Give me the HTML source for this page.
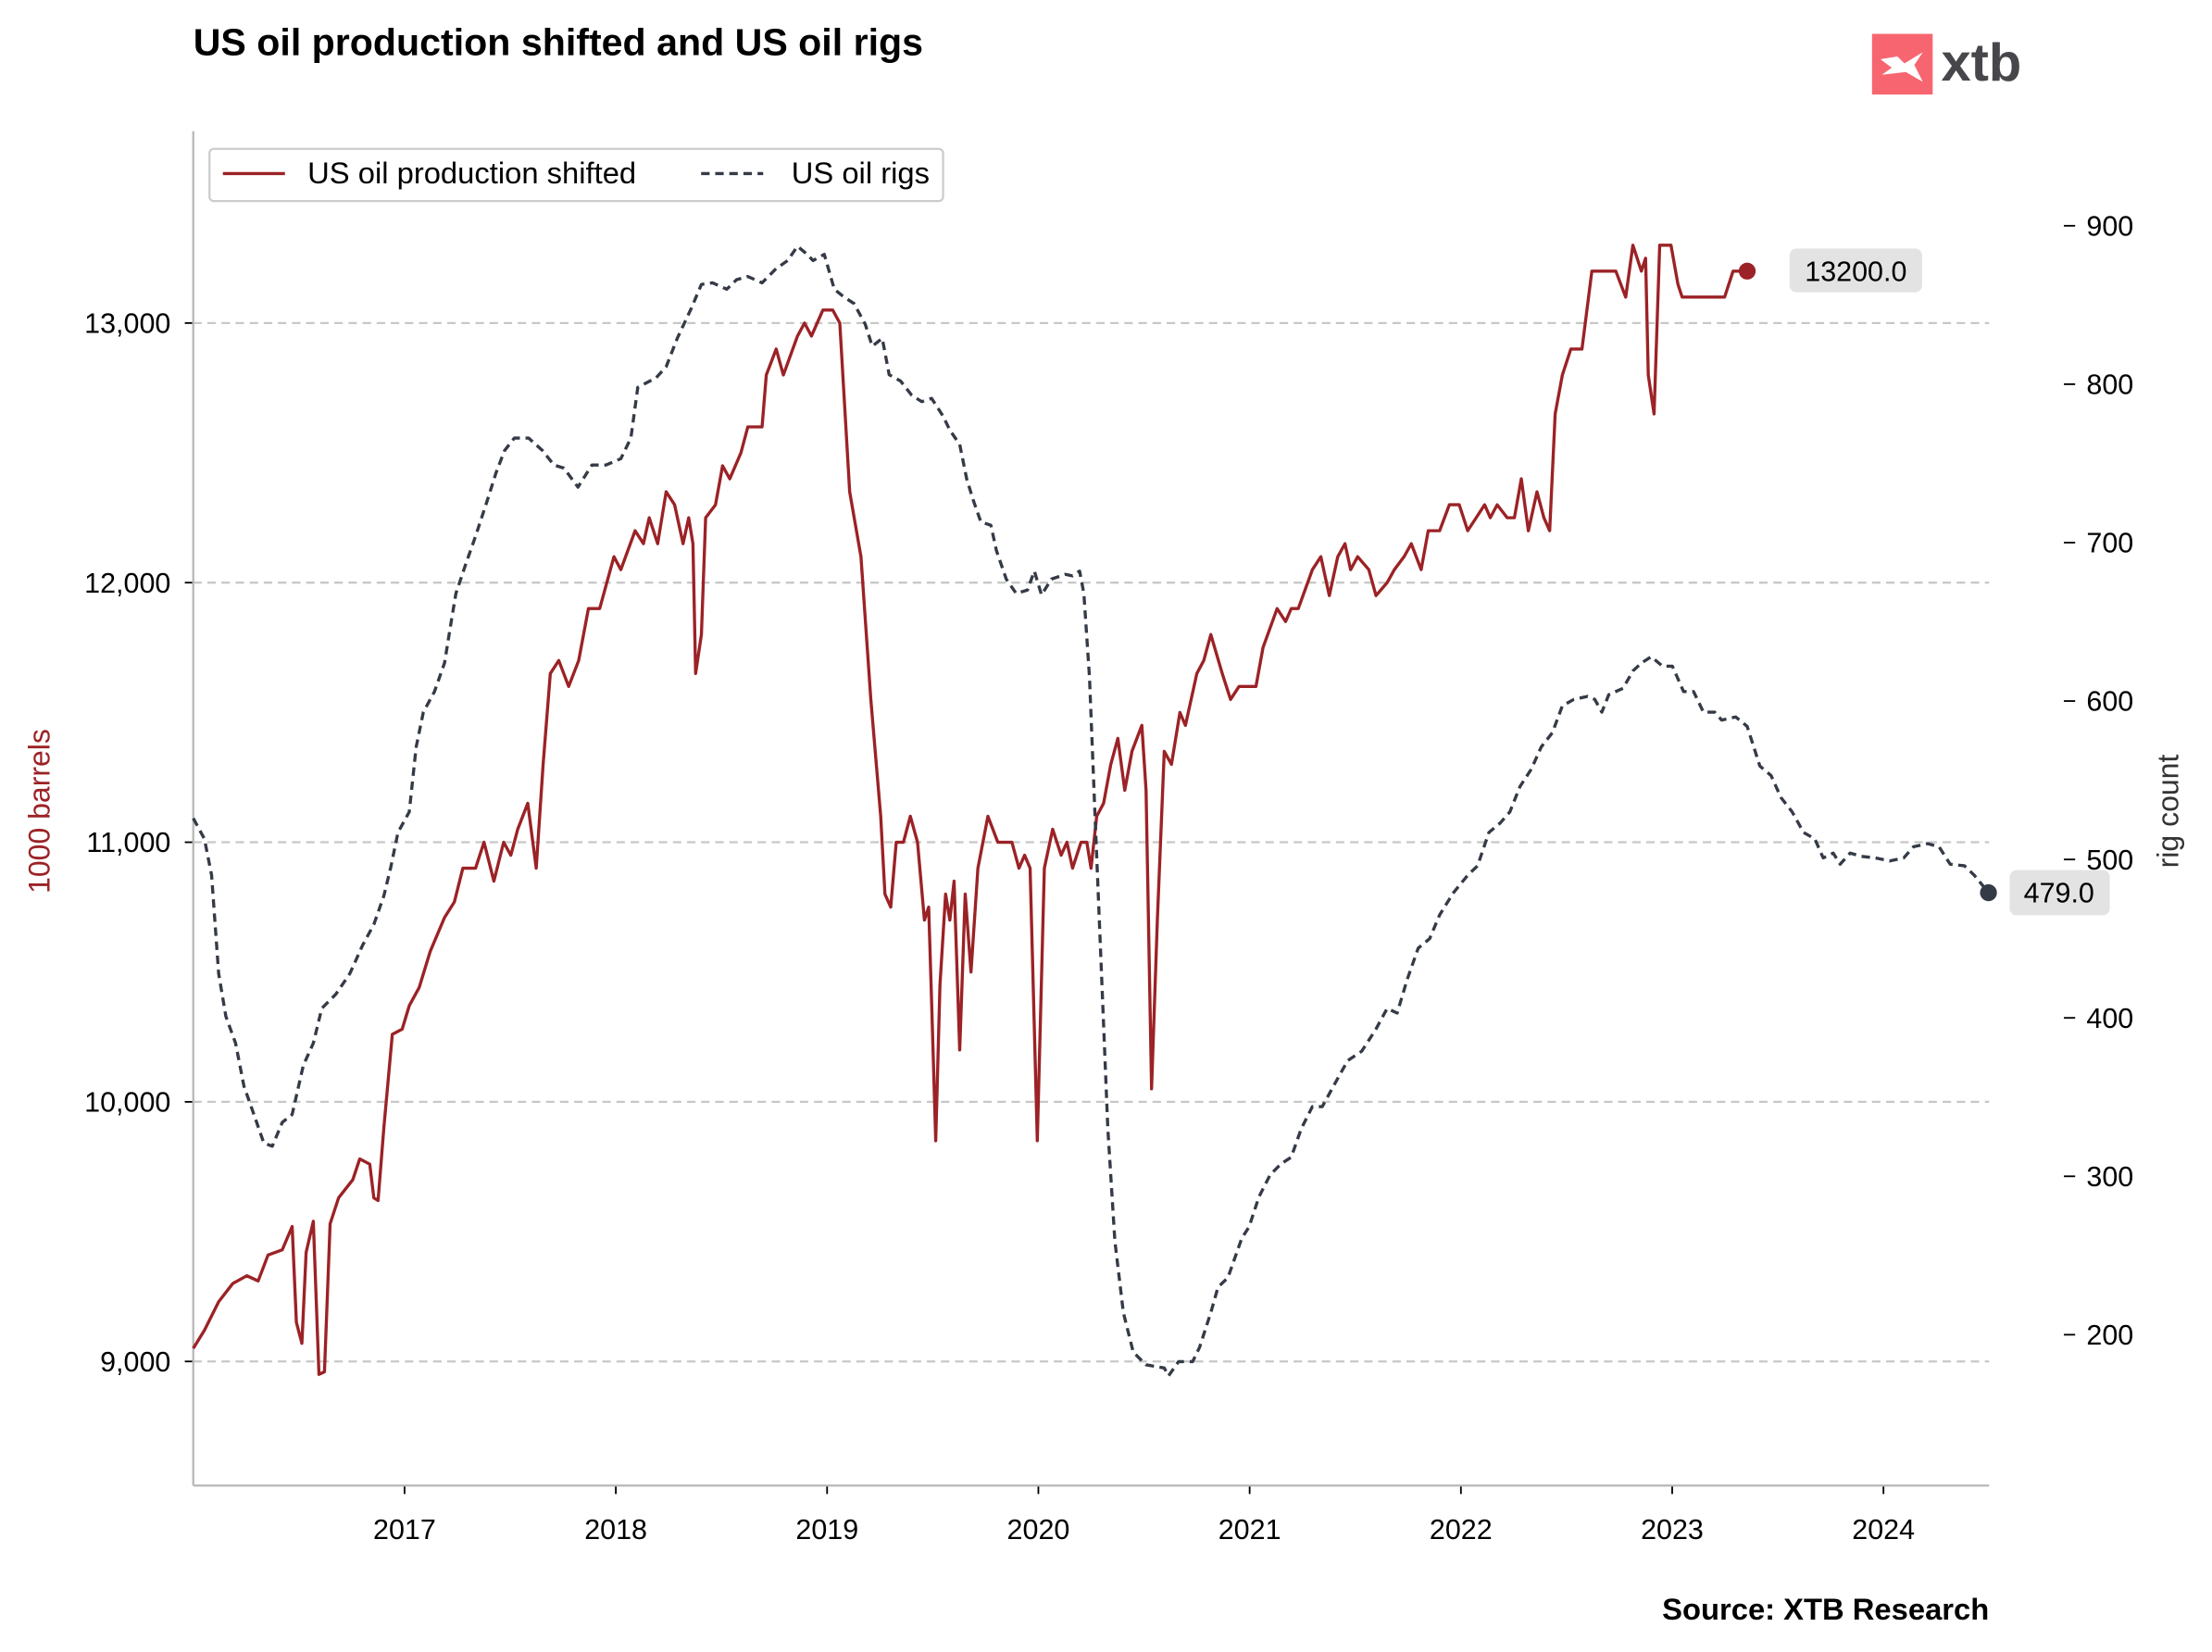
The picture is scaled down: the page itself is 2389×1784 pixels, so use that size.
<!DOCTYPE html>
<html><head><meta charset="utf-8"><style>
html,body{margin:0;padding:0;background:#fff;}
svg{display:block;font-family:"Liberation Sans",Arial,sans-serif;}
</style></head><body>
<svg id="chart" width="2389" height="1784" viewBox="0 0 1568 1171" preserveAspectRatio="none" xmlns="http://www.w3.org/2000/svg">
<rect x="0" y="0" width="1568" height="1171" fill="#fff"/>
<text x="137" y="39" font-size="27" font-weight="bold" fill="#000">US oil production shifted and US oil rigs</text>
<g>
<rect x="1327" y="24" width="43" height="43" fill="#f76670"/>
<path d="M1333 42 L1345 40 L1350 45 L1363 37 L1357 46 L1363 58 L1351 51 L1334 53 L1341 48 Z" fill="#fff"/>
<text x="1376" y="57" font-size="38" font-weight="bold" fill="#47474b">xtb</text>
</g>
<g id="grid"></g>
<g id="axes"></g>
<g id="series"></g>
<g>
<rect x="148.5" y="105.5" width="520" height="37" rx="3" fill="#fff" stroke="#cccccc" stroke-width="1.5"/>
<line x1="158" y1="123" x2="202" y2="123" stroke="#9b2226" stroke-width="2.2"/>
<text x="218" y="130" font-size="21.5" fill="#000">US oil production shifted</text>
<line x1="497" y1="123" x2="541" y2="123" stroke="#343a46" stroke-width="2.2" stroke-dasharray="6,4"/>
<text x="561" y="130" font-size="21.5" fill="#000">US oil rigs</text>
</g>
<text transform="translate(35,575) rotate(-90)" text-anchor="middle" font-size="21" fill="#9b2226">1000 barrels</text>
<text transform="translate(1544,575) rotate(-90)" text-anchor="middle" font-size="21" fill="#333">rig count</text>
<text x="1410" y="1148" text-anchor="end" font-size="21.5" font-weight="bold" fill="#000">Source: XTB Research</text>
<script>
const prodDates=[2016.00,2016.053,2016.120,2016.187,2016.254,2016.307,2016.354,2016.421,2016.468,2016.488,2016.514,2016.534,2016.568,2016.595,2016.621,2016.648,2016.688,2016.755,2016.788,2016.835,2016.855,2016.875,2016.902,2016.942,2016.989,2017.022,2017.069,2017.122,2017.189,2017.236,2017.276,2017.336,2017.376,2017.423,2017.469,2017.503,2017.536,2017.583,2017.623,2017.656,2017.690,2017.730,2017.777,2017.824,2017.870,2017.924,2017.991,2018.024,2018.091,2018.131,2018.158,2018.198,2018.238,2018.278,2018.318,2018.345,2018.365,2018.378,2018.405,2018.425,2018.472,2018.505,2018.539,2018.592,2018.625,2018.692,2018.712,2018.759,2018.793,2018.860,2018.893,2018.926,2018.980,2019.027,2019.060,2019.107,2019.160,2019.207,2019.254,2019.274,2019.301,2019.327,2019.361,2019.394,2019.428,2019.461,2019.481,2019.494,2019.514,2019.534,2019.561,2019.581,2019.601,2019.628,2019.654,2019.681,2019.714,2019.761,2019.808,2019.875,2019.908,2019.935,2019.961,2019.995,2020.028,2020.068,2020.108,2020.135,2020.162,2020.202,2020.229,2020.249,2020.276,2020.309,2020.343,2020.376,2020.409,2020.443,2020.490,2020.510,2020.536,2020.563,2020.596,2020.630,2020.670,2020.696,2020.750,2020.783,2020.816,2020.870,2020.910,2020.950,2021.030,2021.063,2021.130,2021.170,2021.197,2021.230,2021.297,2021.337,2021.377,2021.417,2021.451,2021.478,2021.511,2021.564,2021.598,2021.651,2021.685,2021.731,2021.765,2021.812,2021.845,2021.899,2021.945,2021.992,2022.032,2022.072,2022.112,2022.139,2022.172,2022.219,2022.253,2022.286,2022.319,2022.360,2022.393,2022.420,2022.446,2022.480,2022.520,2022.573,2022.620,2022.733,2022.780,2022.814,2022.854,2022.874,2022.887,2022.914,2022.941,2022.994,2023.027,2023.047,2023.248,2023.288,2023.355];
const prodValues=[9050,9120,9230,9300,9330,9310,9410,9430,9520,9150,9070,9420,9540,8950,8960,9530,9630,9700,9780,9760,9630,9620,9900,10260,10280,10370,10440,10580,10710,10770,10900,10900,11000,10850,11000,10950,11050,11150,10900,11300,11650,11700,11600,11700,11900,11900,12100,12050,12200,12150,12250,12150,12350,12300,12150,12250,12150,11650,11800,12250,12300,12450,12400,12500,12600,12600,12800,12900,12800,12950,13000,12950,13050,13050,13000,12350,12100,11550,11100,10800,10750,11000,11000,11100,11000,10700,10750,10400,9850,10450,10800,10700,10850,10200,10800,10500,10900,11100,11000,11000,10900,10950,10900,9850,10900,11050,10950,11000,10900,11000,11000,10900,11100,11150,11300,11400,11200,11350,11450,11200,10050,10700,11350,11300,11500,11450,11650,11700,11800,11650,11550,11600,11600,11750,11900,11850,11900,11900,12050,12100,11950,12100,12150,12050,12100,12050,11950,12000,12050,12100,12150,12050,12200,12200,12300,12300,12200,12250,12300,12250,12300,12250,12250,12400,12200,12350,12250,12200,12650,12800,12900,12900,13200,13200,13100,13300,13200,13250,12800,12650,13300,13300,13150,13100,13100,13200,13200];
const rigDates=[2016.00,2016.053,2016.087,2016.120,2016.154,2016.200,2016.240,2016.287,2016.334,2016.374,2016.421,2016.468,2016.521,2016.568,2016.608,2016.675,2016.741,2016.802,2016.855,2016.902,2016.935,2016.969,2017.022,2017.055,2017.089,2017.142,2017.189,2017.222,2017.243,2017.289,2017.336,2017.390,2017.433,2017.473,2017.520,2017.587,2017.654,2017.707,2017.754,2017.821,2017.887,2017.954,2018.024,2018.071,2018.104,2018.191,2018.238,2018.291,2018.358,2018.405,2018.458,2018.525,2018.572,2018.625,2018.692,2018.759,2018.813,2018.860,2018.906,2018.933,2018.987,2019.034,2019.080,2019.127,2019.180,2019.214,2019.261,2019.294,2019.348,2019.401,2019.448,2019.495,2019.548,2019.581,2019.628,2019.661,2019.694,2019.728,2019.775,2019.801,2019.848,2019.895,2019.948,2019.981,2020.015,2020.062,2020.128,2020.162,2020.195,2020.215,2020.242,2020.269,2020.296,2020.329,2020.362,2020.402,2020.449,2020.509,2020.596,2020.616,2020.663,2020.730,2020.763,2020.816,2020.850,2020.897,2020.963,2020.997,2021.044,2021.097,2021.150,2021.197,2021.244,2021.297,2021.344,2021.397,2021.464,2021.531,2021.598,2021.651,2021.698,2021.745,2021.798,2021.852,2021.899,2021.965,2022.032,2022.079,2022.132,2022.186,2022.232,2022.279,2022.333,2022.380,2022.433,2022.480,2022.534,2022.600,2022.634,2022.667,2022.700,2022.767,2022.814,2022.854,2022.901,2022.954,2023.001,2023.054,2023.101,2023.148,2023.201,2023.234,2023.301,2023.355,2023.415,2023.468,2023.515,2023.568,2023.622,2023.675,2023.715,2023.762,2023.795,2023.842,2023.895,2023.962,2024.029,2024.096,2024.142,2024.209,2024.263,2024.316,2024.383,2024.430,2024.497];
const rigValues=[526,513,490,428,401,384,357,339,321,319,334,339,370,384,406,415,428,446,459,477,495,517,530,571,593,606,624,651,668,686,704,726,744,758,766,766,758,749,747,735,749,749,753,766,798,804,811,829,848,863,864,860,866,868,864,873,878,887,882,878,882,860,855,851,838,824,829,806,802,793,789,791,780,771,762,740,726,713,711,695,677,668,670,682,667,677,680,679,682,668,615,526,437,330,259,214,189,181,179,174,183,183,192,214,230,236,261,268,287,301,308,312,330,344,344,357,373,379,393,406,403,424,444,450,465,479,490,496,517,523,530,546,557,571,580,597,601,603,601,593,604,608,619,624,628,622,622,606,606,593,593,588,590,584,559,553,539,530,517,513,501,504,497,504,502,501,499,501,508,510,508,497,496,490,479];
const leftTicks=[9000,10000,11000,12000,13000];
const leftTickLabels=["9,000","10,000","11,000","12,000","13,000"];
const rightTicks=[200,300,400,500,600,700,800,900];
const xTicks=[2017,2018,2019,2020,2021,2022,2023,2024];

const NS="http://www.w3.org/2000/svg";
const L=137,R=1410,T=93,B=1053;
const xMin=2016.0,xMax=2024.5;
const yLMin=8522,yLMax=13739;
const yRMin=104.8,yRMax=959.7;
function xs(v){return L+(v-xMin)/(xMax-xMin)*(R-L);}
function yl(v){return B-(v-yLMin)/(yLMax-yLMin)*(B-T);}
function yr(v){return B-(v-yRMin)/(yRMax-yRMin)*(B-T);}
function mk(tag,attrs,parent){const e=document.createElementNS(NS,tag);for(const k in attrs)e.setAttribute(k,attrs[k]);parent.appendChild(e);return e;}
const grid=document.getElementById('grid'),axes=document.getElementById('axes'),series=document.getElementById('series');

leftTicks.forEach((v,i)=>{
  const g=mk('line',{x1:L,x2:R,y1:yl(v),y2:yl(v),stroke:'#c8c8c8','stroke-width':1.5,'stroke-dasharray':'6,4'},grid);
  
  
  const t=mk('line',{x1:L-6,x2:L,y1:yl(v),y2:yl(v),stroke:'#000','stroke-width':1.2},axes);
  
  
  const lb=mk('text',{x:L-16,y:yl(v)+7,'text-anchor':'end','font-size':20,fill:'#000'},axes);
  lb.textContent=leftTickLabels[i];
  
  
});
rightTicks.forEach(v=>{
  const t=mk('line',{x1:1463,x2:1471,y1:yr(v),y2:yr(v),stroke:'#000','stroke-width':1.2},axes);
  
  
  const lb=mk('text',{x:1479,y:yr(v)+7,'font-size':20,fill:'#000'},axes);
  lb.textContent=String(v);
  
  
});
xTicks.forEach(v=>{
  const t=mk('line',{x1:xs(v),x2:xs(v),y1:B,y2:B+6,stroke:'#000','stroke-width':1.2},axes);
  
  
  const lb=mk('text',{x:xs(v),y:B+38,'text-anchor':'middle','font-size':20,fill:'#000'},axes);
  lb.textContent=String(v);
  
  
});
const sl=mk('line',{x1:L,x2:L,y1:T,y2:B,stroke:'#b8b8b8','stroke-width':1.5},axes);


const sb=mk('line',{x1:L,x2:R,y1:B,y2:B,stroke:'#b8b8b8','stroke-width':1.5},axes);



let d=prodDates.map((x,i)=>(i?'L':'M')+xs(x).toFixed(1)+','+yl(prodValues[i]).toFixed(1)).join(' ');
const pl=mk('path',{d:d,fill:'none',stroke:'#9b2226','stroke-width':2.2,'stroke-linejoin':'round'},series);


d=rigDates.map((x,i)=>(i?'L':'M')+xs(x).toFixed(1)+','+yr(rigValues[i]).toFixed(1)).join(' ');
const rl=mk('path',{d:d,fill:'none',stroke:'#343a46','stroke-width':2.2,'stroke-dasharray':'6,4','stroke-linejoin':'round'},series);



const pn=prodDates.length-1, rn=rigDates.length-1;
const px=xs(prodDates[pn]),py=yl(prodValues[pn]);
const pd=mk('circle',{cx:px,cy:py,r:6,fill:'#9b2226'},series);


const pb=mk('rect',{x:px+30,y:py-16,width:94,height:31,rx:5,fill:'#e3e3e3'},series);


const pt=mk('text',{x:px+77,y:py+7,'text-anchor':'middle','font-size':20,fill:'#000'},series);
pt.textContent=prodValues[pn].toFixed(1);


const rx=xs(rigDates[rn]),ry=yr(rigValues[rn]);
const rd=mk('circle',{cx:rx,cy:ry,r:6,fill:'#343a46'},series);


const rb=mk('rect',{x:rx+15,y:ry-16,width:71,height:32,rx:5,fill:'#e3e3e3'},series);


const rt=mk('text',{x:rx+50,y:ry+7,'text-anchor':'middle','font-size':20,fill:'#000'},series);
rt.textContent=rigValues[rn].toFixed(1);


</script>
</svg>
</body></html>
